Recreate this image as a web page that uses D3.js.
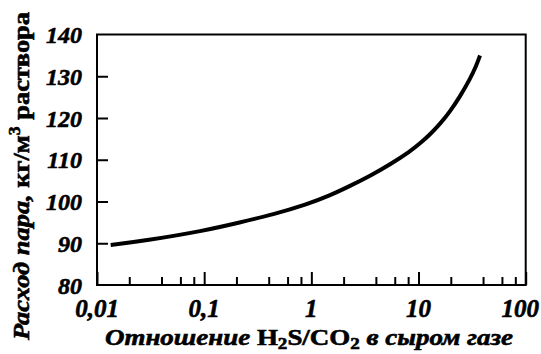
<!DOCTYPE html>
<html><head><meta charset="utf-8">
<script src="https://cdn.jsdelivr.net/npm/d3@7"></script>
<style>
html,body{margin:0;padding:0;background:#fff;}
svg{display:block;}
text{font-family:"Liberation Serif","Times New Roman",serif;font-weight:700;fill:#000;stroke:#000;stroke-width:0.6px;}
</style></head>
<body>
<svg id="chart" width="541" height="354"></svg>
<script>
// Data
const ratio = [0.01342, 0.02805, 0.099, 0.216, 0.4416, 0.9051, 1.493, 2.294, 3.527, 5.419, 8.326, 10.32, 12.80, 15.87, 19.67, 24.38, 30.22, 34.38, 37.47];
const steam = [89.58, 90.61, 92.96, 94.99, 96.89, 99.28, 101.44, 103.71, 106.11, 108.86, 111.98, 113.89, 116.05, 118.56, 121.56, 125.15, 129.34, 132.34, 134.97];
const xTicks = [0.01, 0.1, 1, 10, 100];
const xTickLabels = ["0,01", "0,1", "1", "10", "100"];
const xMinorTicks = [0.02,0.04,0.06,0.08, 0.2,0.4,0.6,0.8, 2,4,6,8, 20,40,60,80];
const yTicks = [80, 90, 100, 110, 120, 130, 140];

const svg = d3.select("#chart");
const L = 97, R = 525.7, T = 34.5, B = 285;
const x = d3.scaleLog().domain([0.01, 100]).range([L, R]);
const y = d3.scaleLinear().domain([80, 140]).range([B, T]);

// frame
svg.append("rect").attr("x", L).attr("y", T).attr("width", R - L).attr("height", B - T)
  .attr("fill", "none").attr("stroke", "#000").attr("stroke-width", 2);

// x axis ticks (inward)
const xAxis = d3.axisBottom(x).tickValues(xTicks).tickSize(-13).tickFormat("");
const gx = svg.append("g").attr("transform", `translate(0,${B})`).call(xAxis);
gx.select(".domain").remove();
gx.selectAll("line").attr("stroke-width", 2);
const xAxisMinor = d3.axisBottom(x).tickValues(xMinorTicks).tickSize(-8).tickFormat("");
const gxm = svg.append("g").attr("transform", `translate(0,${B})`).call(xAxisMinor);
gxm.select(".domain").remove();
gxm.selectAll("line").attr("stroke-width", 2);

// x tick labels
svg.append("g").selectAll("text").data(xTicks).join("text")
  .attr("x", (d, i) => i === xTicks.length - 1 ? 539 : x(d))
  .attr("y", 317)
  .attr("text-anchor", (d, i) => i === xTicks.length - 1 ? "end" : "middle")
  .attr("font-style", "italic").attr("font-size", 25)
  .text((d, i) => xTickLabels[i]);

// y axis ticks (inward)
const yAxis = d3.axisLeft(y).tickValues(yTicks.filter(v => v > 80 && v < 140)).tickSize(-11).tickFormat("");
const gy = svg.append("g").attr("transform", `translate(${L},0)`).call(yAxis);
gy.select(".domain").remove();
gy.selectAll("line").attr("stroke-width", 2);

// y tick labels
svg.append("g").selectAll("text").data(yTicks).join("text")
  .attr("x", 82).attr("y", d => y(d)).attr("dy", "0.36em")
  .attr("text-anchor", "end").attr("font-style", "italic").attr("font-size", 24)
  .text(d => d);

// curve
const pts = ratio.map((r, i) => [r, steam[i]]);
svg.append("path").datum(pts)
  .attr("fill", "none").attr("stroke", "#000").attr("stroke-width", 4)
  .attr("d", d3.line().x(d => x(d[0])).y(d => y(d[1])).curve(d3.curveBasis));

// x title
const xt = svg.append("text").attr("x", 309).attr("y", 345).attr("text-anchor", "middle")
  .attr("font-size", 24).attr("textLength", 408).attr("lengthAdjust", "spacingAndGlyphs");
xt.append("tspan").attr("font-style", "italic").text("Отношение ");
xt.append("tspan").text("H");
xt.append("tspan").attr("font-size", 17).attr("dy", 4).text("2");
xt.append("tspan").attr("dy", -4).text("S/CO");
xt.append("tspan").attr("font-size", 17).attr("dy", 4).text("2");
xt.append("tspan").attr("dy", -4).attr("font-style", "italic").text(" в сыром газе");

// y title
const yt = svg.append("text").attr("transform", "translate(29,176) rotate(-90)")
  .attr("text-anchor", "middle").attr("font-size", 24)
  .attr("textLength", 328).attr("lengthAdjust", "spacingAndGlyphs");
yt.append("tspan").attr("font-style", "italic").text("Расход пара, ");
yt.append("tspan").text("кг/м");
yt.append("tspan").attr("font-size", 16).attr("dy", -9).text("3");
yt.append("tspan").attr("dy", 9).text(" раствора");
</script>
</body></html>
